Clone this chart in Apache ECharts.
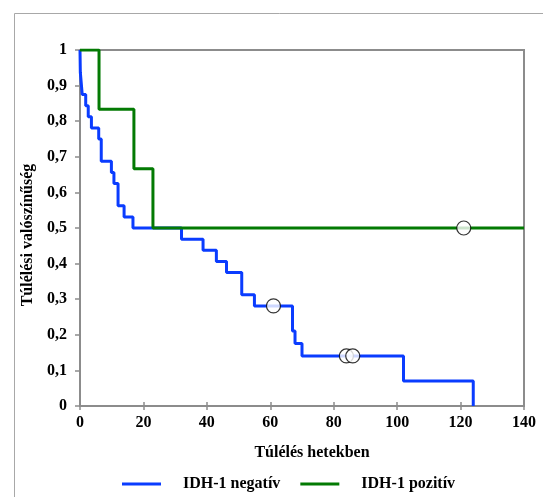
<!DOCTYPE html>
<html>
<head>
<meta charset="utf-8">
<script src="https://cdn.jsdelivr.net/npm/echarts@6/dist/echarts.min.js"></script>
<style>
html,body{margin:0;padding:0;background:#fff;}
#c{width:543px;height:497px;}
</style>
</head>
<body>
<div id="c"></div>
<script>
// Kaplan–Meier step points: [week, survival]
var negTimes = [0, 0.1, 0.7, 1.8, 2.6, 3.6, 5.9, 6.7, 9.9, 10.7, 12, 13.9, 16.7, 32, 38.8, 43, 46.2, 51, 55, 67, 67.8, 70, 102, 124];
var negSurv  = [1, 0.9375, 0.875, 0.84375, 0.8125, 0.78125, 0.75, 0.6875, 0.65625, 0.625, 0.5625, 0.53125, 0.5, 0.46875, 0.4375, 0.40625, 0.375, 0.3125, 0.28125, 0.2109, 0.1758, 0.1406, 0.0703, 0];
var posTimes = [0, 6, 17, 23, 140];
var posSurv  = [1, 0.8333, 0.6667, 0.5, 0.5];
// censored observations
var negCensTimes = [61, 84, 86];
var negCensSurv  = [0.28125, 0.1406, 0.1406];
var posCensTimes = [121];
var posCensSurv  = [0.5];
var seriesNames = ['IDH-1 negatív', 'IDH-1 pozitív'];
var xTitle = 'Túlélés hetekben';
var yTitle = 'Túlélési valószínűség';

function zip(a, b) { return a.map(function (v, i) { return [v, b[i]]; }); }

var font = 'Liberation Serif, Times New Roman, serif';
var axisGrey = '#8c8c8c';
var fs = 16;
var chart = echarts.init(document.getElementById('c'));
chart.setOption({
  animation: false,
  backgroundColor: '#fff',
  graphic: [{
    type: 'rect', left: 12, top: 11,
    shape: { x: 0, y: 0, width: 700, height: 700 },
    style: { fill: 'none', stroke: '#a8a8a8', lineWidth: 1 },
    silent: true
  }],
  grid: { left: 80, right: 19, top: 50, bottom: 91, show: true, borderColor: axisGrey, borderWidth: 2, backgroundColor: 'transparent' },
  legend: {
    top: 471, left: 117,
    itemWidth: 39, itemHeight: 3, itemGap: 20, icon: 'rect',
    textStyle: { fontFamily: font, fontWeight: 'bold', fontSize: fs, color: '#000', padding: [0, 0, 0, 17] },
    data: seriesNames
  },
  xAxis: [{
    type: 'value', min: 0, max: 140, interval: 20,
    name: xTitle, nameLocation: 'middle', nameGap: 39,
    nameTextStyle: { fontFamily: font, fontWeight: 'bold', fontSize: fs, color: '#000', padding: [0, 0, 0, 20] },
    axisLine: { show: true, lineStyle: { color: axisGrey, width: 2 } },
    axisTick: { show: true, inside: false, length: 4, lineStyle: { color: axisGrey, width: 1.5 } },
    axisLabel: { fontFamily: font, fontWeight: 'bold', fontSize: fs, color: '#000', margin: 9 },
    splitLine: { show: false }
  }, {
    type: 'value', min: 0, max: 140, interval: 20, position: 'bottom', offset: 0,
    axisLine: { show: false },
    axisTick: { show: true, inside: true, length: 4, lineStyle: { color: axisGrey, width: 1.5 } },
    axisLabel: { show: false },
    splitLine: { show: false }
  }],
  yAxis: {
    type: 'value', min: 0, max: 1, interval: 0.1,
    name: yTitle, nameLocation: 'middle', nameGap: 40, nameRotate: 90,
    nameTextStyle: { fontFamily: font, fontWeight: 'bold', fontSize: fs, color: '#000', padding: [0, 14, 0, 0] },
    axisLine: { show: true, lineStyle: { color: axisGrey, width: 2 } },
    axisTick: { show: true, inside: false, length: 5, lineStyle: { color: axisGrey, width: 1.5 } },
    axisLabel: {
      fontFamily: font, fontWeight: 'bold', fontSize: fs, color: '#000', margin: 13,
      formatter: function (v) {
        if (Math.abs(v) < 1e-9) return '0';
        if (Math.abs(v - 1) < 1e-9) return '1';
        return v.toFixed(1).replace('.', ',');
      }
    },
    splitLine: { show: false }
  },
  series: [{
    name: seriesNames[0], type: 'line', step: 'end', data: zip(negTimes, negSurv),
    showSymbol: false, symbol: 'none', color: '#0a3cff',
    lineStyle: { color: '#0a3cff', width: 3 }, z: 2
  }, {
    name: seriesNames[1], type: 'line', step: 'end', data: zip(posTimes, posSurv),
    showSymbol: false, symbol: 'none', color: '#037a03',
    lineStyle: { color: '#037a03', width: 3 }, z: 3
  }, {
    name: 'cens-neg', type: 'scatter', data: zip(negCensTimes, negCensSurv),
    symbol: 'circle', symbolSize: 14,
    itemStyle: { color: '#fff', borderColor: '#000', borderWidth: 1.2 }, z: 5
  }, {
    name: 'cens-pos', type: 'scatter', data: zip(posCensTimes, posCensSurv),
    symbol: 'circle', symbolSize: 14,
    itemStyle: { color: '#fff', borderColor: '#000', borderWidth: 1.2 }, z: 5
  }]
});
</script>
</body>
</html>
